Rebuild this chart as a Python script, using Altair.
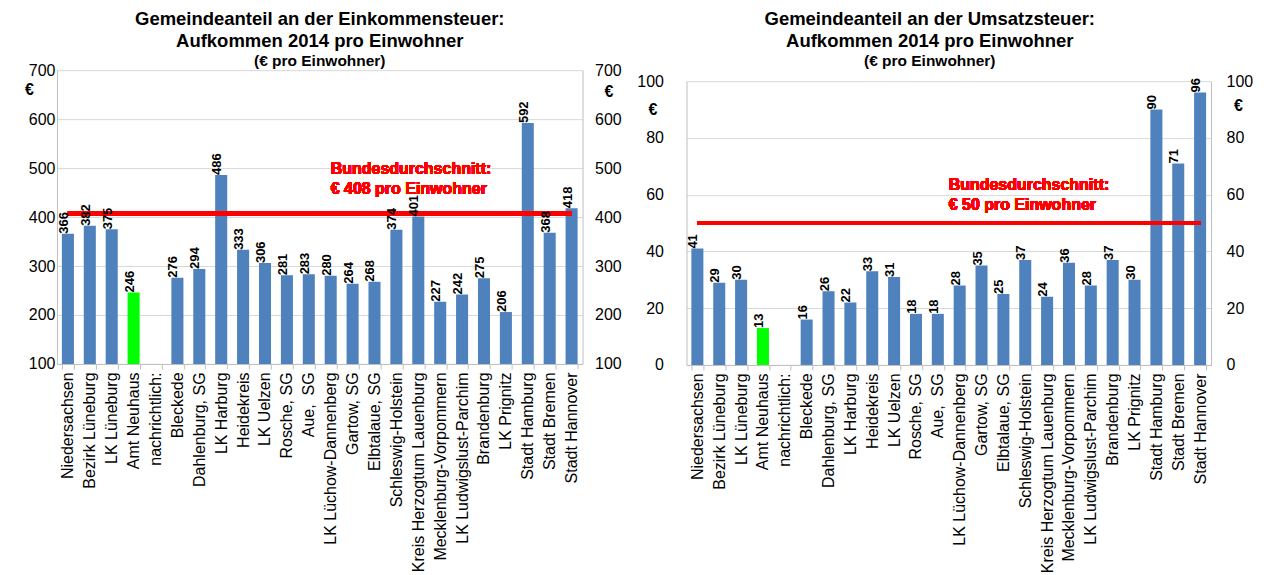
import altair as alt
import pandas as pd

categories = [
    "Niedersachsen", "Bezirk Lüneburg", "LK Lüneburg", "Amt Neuhaus", "nachrichtlich:",
    "Bleckede", "Dahlenburg, SG", "LK Harburg", "Heidekreis", "LK Uelzen",
    "Rosche, SG", "Aue,\u00a0\u00a0SG", "LK Lüchow-Dannenberg", "Gartow, SG", "Elbtalaue, SG",
    "Schleswig-Holstein", "Kreis Herzogtum Lauenburg", "Mecklenburg-Vorpommern",
    "LK Ludwigslust-Parchim", "Brandenburg", "LK Prignitz", "Stadt Hamburg",
    "Stadt Bremen", "Stadt Hannover",
]
einkommen = [366, 382, 375, 246, None, 276, 294, 486, 333, 306, 281, 283, 280, 264, 268,
             374, 401, 227, 242, 275, 206, 592, 368, 418]
umsatz = [41, 29, 30, 13, None, 16, 26, 22, 33, 31, 18, 18, 28, 35, 25,
          37, 24, 36, 28, 37, 30, 90, 71, 96]
highlight = "Amt Neuhaus"

titles_ek = ["Gemeindeanteil an der Einkommensteuer:", "Aufkommen 2014 pro Einwohner"]
titles_ust = ["Gemeindeanteil an der Umsatzsteuer:", "Aufkommen 2014 pro Einwohner"]
subtitle = "(€ pro Einwohner)"
avg_ek = 408
avg_ust = 50
avg_ek_label = "Bundesdurchschnitt:\n€ 408 pro Einwohner"
avg_ust_label = "Bundesdurchschnitt:\n€ 50 pro Einwohner"

FONT = "Liberation Sans"
BLUE = "#4F81BD"
GREEN = "#00FF00"
GRID = "#D9D9D9"
AXIS = "#BFBFBF"


def title_params(lines, dx, dy):
    return alt.TitleParams(text=lines, subtitle=subtitle, fontSize=18.5,
                           fontWeight="bold", lineHeight=22, color="black",
                           subtitleFontSize=15.5, subtitleFontWeight="bold",
                           subtitleColor="black", subtitlePadding=3,
                           offset=-5, anchor="middle", dx=dx, dy=dy)


def panel(values, avg, avg_label, ymin, ymax, step, w, h,
          lpad_left, lpad_right, eur_left, eur_right, note_cat, note_dx, note_dy):
    df = pd.DataFrame({"cat": categories, "v": values})
    df["col"] = ["hl" if c == highlight else "n" for c in categories]
    df = df.dropna()

    xscale = alt.Scale(domain=categories, paddingInner=0.45, paddingOuter=0.225)
    yscale = alt.Scale(domain=[ymin, ymax], nice=False, zero=False)
    ticks = list(range(ymin, ymax + 1, step))

    xaxis = alt.Axis(title=None, labelAngle=-90, labelFontSize=16, labelColor="black",
                     domainColor=AXIS, tickColor=AXIS, tickSize=5, labelPadding=3,
                     tickBand="extent", grid=False, labelLimit=400)
    x = alt.X("cat:N", scale=xscale, axis=xaxis, sort=categories)

    yaxis_l = alt.Axis(values=ticks, orient="left", title="€", titleAngle=0,
                       titleFontSize=16, titleFontWeight="bold", titleX=eur_left[0],
                       titleY=eur_left[1], titleAlign="center", titleBaseline="middle",
                       labelFontSize=16, labelColor="black", ticks=False,
                       labelPadding=lpad_left, domainColor=AXIS, gridColor=GRID,
                       grid=True)
    yaxis_r = alt.Axis(values=ticks, orient="right", title="€", titleAngle=0,
                       titleFontSize=16, titleFontWeight="bold", titleX=eur_right[0],
                       titleY=eur_right[1], titleAlign="center", titleBaseline="middle",
                       labelFontSize=16, labelColor="black", ticks=False,
                       labelPadding=lpad_right, domainColor=AXIS, grid=False)

    bars = alt.Chart(df).mark_bar().encode(
        x=x,
        y=alt.Y("v:Q", scale=yscale, axis=yaxis_l),
        y2=alt.datum(ymin),
        color=alt.Color("col:N", scale=alt.Scale(domain=["n", "hl"], range=[BLUE, GREEN]),
                        legend=None),
    )
    labels = alt.Chart(df).mark_text(angle=270, align="left", baseline="middle", dy=-4,
                                     fontSize=13, fontWeight="bold", color="black").encode(
        x=x,
        y=alt.Y("v:Q", scale=yscale, axis=yaxis_r),
        text=alt.Text("v:Q", format=".0f"),
    )
    rule = alt.Chart(df).mark_rule(color="#FF0000", strokeWidth=4).encode(
        x=alt.datum(categories[0]),
        x2=alt.datum(categories[-1]),
        y=alt.YDatum(avg, axis=None),
    )
    note = alt.Chart(df).mark_text(align="left", baseline="middle", lineBreak="\n",
                                   fontSize=16, fontWeight="bold", color="#FF0000",
                                   lineHeight=20, dx=note_dx, dy=note_dy).encode(
        x=alt.datum(note_cat),
        y=alt.YDatum(avg, axis=None),
        text=alt.datum(avg_label),
    )
    return alt.layer(bars, rule, labels, note).resolve_scale(y="shared").resolve_axis(
        y="independent").properties(width=w, height=h)


left = panel(einkommen, avg_ek, avg_ek_label, 100, 700, 100, 526, 294,
             2, 12, (-28, 19), (26, 21), "LK Lüchow-Dannenberg", 0, -44
             ).properties(title=title_params(titles_ek, 0, 2))

right_plot = panel(umsatz, avg_ust, avg_ust_label, 0, 100, 20, 525, 284,
                   23, 15, (-34, 28), (27, 24), "LK Lüchow-Dannenberg", -11, -38)

# empty band above the right plot (its plot area starts lower than the left one)
spacer = alt.Chart(pd.DataFrame({"a": [0]})).mark_point(opacity=0, size=1).encode(
    x=alt.X("a:Q", axis=None), y=alt.Y("a:Q", axis=None)
).properties(width=525, height=3)

right = alt.vconcat(spacer, right_plot, spacing=0).properties(
    title=title_params(titles_ust, -15, -6))

chart = alt.hconcat(left, right, spacing=15).properties(
    padding={"left": 16, "top": 2, "right": 5, "bottom": 5}
).configure(font=FONT).configure_view(strokeWidth=0)

chart.save("out.html", embed_options={"renderer": "svg", "actions": False})
